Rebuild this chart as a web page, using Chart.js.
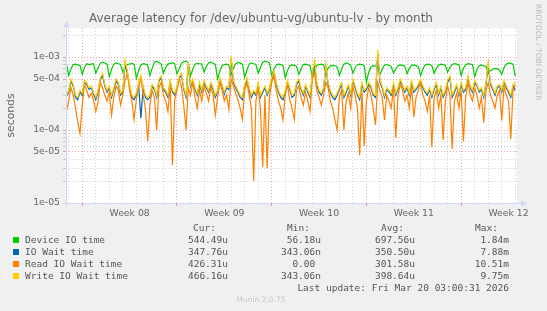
<!DOCTYPE html>
<html><head><meta charset="utf-8">
<script src="https://cdn.jsdelivr.net/npm/chart.js@4/dist/chart.umd.min.js"></script>
<style>
html,body{margin:0;padding:0;background:#f0f0f0;}
#wrap{position:relative;width:547px;height:311px;overflow:hidden;font-family:"DejaVu Sans",sans-serif;}
canvas{position:absolute;left:0;top:0;}
.t{position:absolute;white-space:pre;line-height:12px;}
.m{font-family:"DejaVu Sans Mono",monospace;font-size:9.5px;color:#555;}
.sq{position:absolute;width:6px;height:6px;}
</style></head>
<body><div id="wrap">
<canvas id="c" width="547" height="311"></canvas>
<div class="t" id="title" style="left:0;width:522px;top:11px;text-align:center;font-size:12px;color:#666;line-height:15px;">Average latency for /dev/ubuntu-vg/ubuntu-lv - by month</div>
<div class="t" style="left:534px;top:4px;writing-mode:vertical-rl;font-size:7.5px;color:#bbb;line-height:9px;">RRDTOOL / TOBI OETIKER</div>
<div id="legend"></div>
<div class="t" style="left:0;width:522px;top:295px;text-align:center;font-size:7.5px;color:#c8c8c8;line-height:10px;">Munin 2.0.75</div>
</div>
<script>
// ---- data (values in microseconds, one point every 4 hours) ----
const seriesNames = ['Device IO time','IO Wait time','Read IO Wait time','Write IO Wait time'];
const seriesColors = ['#00cc00','#0066b3','#ff8000','#ffcc00'];
const startDay = -7/6;      // days relative to Mon 16 Feb 2026 00:00
const stepDays = 1/6;
const deviceIO = [800,
560,690,790,800,780,770, 580,720,810,790,800,810, 600,700,820,850,830,800, 540,680,800,830,810,790,
620,740,790,800,820,800, 510,650,780,810,800,780, 560,700,850,870,840,800, 600,720,800,820,830,810,
590,690,820,860,880,840, 550,680,800,820,810,800, 620,740,830,850,820,790, 500,640,760,790,800,780,
570,700,810,840,830,800, 530,660,800,830,810,790, 600,720,850,880,860,830, 560,680,780,800,790,770,
520,650,760,780,770,750, 580,680,790,800,780,760, 540,660,770,790,800,780, 600,700,760,770,760,740,
560,680,800,830,810,770, 600,720,780,800,790,760, 450,620,730,760,750,730, 580,680,780,790,770,740,
600,690,760,780,770,750, 590,700,770,780,760,740, 560,680,780,800,790,760, 600,700,770,800,790,770,
620,720,790,810,800,780, 560,700,780,810,800,790, 540,680,760,780,760,740, 600,650,680,700,690,660,
580,720,800,830,820,800, 544];
const ioWait = [290,
330,470,400,280,260,330, 300,450,420,360,380,310, 260,330,490,560,400,330, 380,280,360,470,420,300,
330,800,600,400,280,260, 300,420,145,380,280,260, 280,400,360,280,470,520, 360,330,280,450,330,300,
380,520,560,360,280,780, 400,470,360,300,420,330, 450,380,330,420,360,280, 330,490,400,310,380,360,
950,450,380,330,280,260, 400,490,360,280,330,300, 420,280,330,380,300,360, 490,610,420,330,280,260,
330,450,360,280,300,420, 470,360,300,400,330,280, 560,820,420,330,300,360, 740,420,330,280,260,300,
360,420,280,330,400,300, 470,380,300,260,420,330, 360,420,380,300,280,1100, 450,380,280,360,330,300,
420,300,360,470,400,330, 380,300,450,330,360,400, 470,380,330,300,360,280, 360,420,300,380,280,330,
450,520,280,330,400,300, 420,330,360,520,380,330, 450,400,330,360,280,420, 780,420,360,300,380,400,
330,450,380,330,280,400, 348];
const readWait = [180,
250,380,300,200,130,90, 220,420,350,280,320,260, 180,240,450,380,300,250, 330,160,280,400,350,220,
300,480,600,350,250,140, 260,400,520,300,200,70, 220,350,280,100,380,450, 300,250,180,420,33,260,
350,500,400,220,100,380, 300,450,280,200,350,250, 400,320,250,380,300,160, 280,450,350,250,300,190,
500,400,320,260,200,140, 350,450,300,200,20,250, 380,200,31,300,30,280, 450,550,350,250,200,137,
300,420,260,200,140,350, 400,280,220,330,250,180, 500,600,350,280,220,300, 450,380,250,200,140,100,
280,350,100,250,320,200, 400,300,200,45,350,60, 250,380,300,200,117,450, 350,280,137,300,250,200,
380,78,300,420,350,250, 300,200,400,150,280,350, 450,300,250,180,300,58, 280,350,200,300,73,250,
400,300,55,250,320,200, 350,70,280,450,300,250, 380,300,200,280,125,350, 450,300,250,200,300,350,
135,400,300,250,75,350, 426];
const writeWait = [300,
350,500,420,300,280,350, 320,480,450,380,400,330, 280,350,520,600,420,350, 400,300,380,500,450,320,
350,900,650,420,300,280, 320,450,560,400,300,280, 300,420,380,300,500,550, 380,350,300,480,350,320,
400,550,600,380,300,850, 420,500,380,320,450,350, 480,400,350,450,380,300, 350,520,420,330,400,380,
1050,480,400,350,300,280, 420,520,380,300,350,320, 450,300,350,400,320,380, 520,650,450,350,300,280,
350,480,380,300,320,450, 500,380,320,420,350,300, 600,900,450,350,320,380, 800,450,350,300,280,320,
380,450,300,350,420,320, 500,400,320,280,450,350, 380,450,400,320,300,1250, 480,400,300,380,350,320,
450,320,380,500,420,350, 400,320,480,350,380,420, 500,400,350,320,380,300, 380,450,320,400,300,350,
480,550,300,350,420,320, 450,350,380,550,400,350, 480,420,350,380,300,450, 850,450,380,320,400,420,
350,480,400,350,300,420, 466];
// legend statistics
const statCur = ['544.49u','347.76u','426.31u','466.16u'];
const statMin = ['56.18u','343.06n','0.00 ','343.06n'];
const statAvg = ['697.56u','350.50u','301.58u','398.64u'];
const statMax = ['1.84m','7.88m','10.51m','9.75m'];
// axis ticks
const weekLabelDays = [3.5,10.5,17.5,24.5,31.5];
const weekLabels = ['Week 08','Week 09','Week 10','Week 11','Week 12'];
const weekStartDays = [0,7,14,21,28];
const yLabelValues = [1e-5,5e-5,1e-4,5e-4,1e-3];
const yLabels = ['1e-05','5e-05','1e-04','5e-04','1e-03'];
const yMin = 1e-5, yMax = 2.5e-3;

// ---- legend (HTML) ----
(function(){
  const L = document.getElementById('legend');
  const rowY = [240,252,264,276];
  let h = '';
  const hdr = [['Cur:',193],['Min:',287],['Avg:',381],['Max:',475]];
  hdr.forEach(([s,x])=>{ h += `<div class="t m" style="left:${x}px;top:222px">${s}</div>`; });
  const cols = [[statCur,228],[statMin,321],[statAvg,415],[statMax,509]];
  seriesNames.forEach((n,i)=>{
    const y = rowY[i];
    h += `<div class="sq" style="left:13px;top:${y-3}px;background:${seriesColors[i]}"></div>`;
    h += `<div class="t m" style="left:25px;top:${y-6}px">${n}</div>`;
    cols.forEach(([arr,r])=>{ h += `<div class="t m" style="right:${547-r}px;top:${y-6}px">${arr[i]}</div>`; });
  });
  h += `<div class="t m" style="right:${547-509}px;top:282px">Last update: Fri Mar 20 03:00:31 2026</div>`;
  L.innerHTML = h;
})();

// ---- chart ----
const toPts = arr => arr.map((v,i)=>({x:startDay+i*stepDays, y:v*1e-6}));
const seriesData = [deviceIO, ioWait, readWait, writeWait];
const datasets = seriesData.map((d,i)=>({
  label: seriesNames[i], data: toPts(d), borderColor: seriesColors[i],
  borderWidth: 1.2, pointRadius: 0, tension: 0, fill: false, order: 3-i
}));

const MAJ = 'rgba(230,110,110,0.6)', MIN = 'rgba(170,170,170,0.55)';
function mant(v){ const e=Math.floor(Math.log10(v)+1e-9); return Math.round(v/Math.pow(10,e)); }
const yGridVals = [];
for (let e=-5;e<=-3;e++) for (let m=1;m<=9;m++) { const v=m*Math.pow(10,e); if (v<=yMax*1.0001) yGridVals.push(v); }
const xTickVals = [];
for (let d=-1; d<=32; d++) xTickVals.push(d);
weekLabelDays.forEach(v=>xTickVals.push(v));
xTickVals.sort((a,b)=>a-b);

const axisPlugin = {
  id:'axes',
  beforeDraw(c){
    const {ctx, chartArea:a} = c; ctx.save(); ctx.fillStyle='#ffffff';
    ctx.fillRect(a.left,a.top,a.right-a.left,a.bottom-a.top); ctx.restore();
  },
  afterDraw(c){
    const {ctx, chartArea:a} = c; ctx.save();
    ctx.strokeStyle='#CFD6F8'; ctx.fillStyle='#CFD6F8'; ctx.lineWidth=1;
    const L = Math.round(a.left)+0.5, B = Math.round(a.bottom)+0.5;
    ctx.beginPath(); ctx.moveTo(L,B+3); ctx.lineTo(L,a.top-2); ctx.stroke();
    ctx.beginPath(); ctx.moveTo(L-3,a.top-1); ctx.lineTo(L+3,a.top-1); ctx.lineTo(L,a.top-7); ctx.closePath(); ctx.fill();
    ctx.beginPath(); ctx.moveTo(L-3,B); ctx.lineTo(a.right+4,B); ctx.stroke();
    ctx.beginPath(); ctx.moveTo(a.right+4,B-3); ctx.lineTo(a.right+4,B+3); ctx.lineTo(a.right+10,B); ctx.closePath(); ctx.fill();
    ctx.restore();
  }
};

new Chart(document.getElementById('c'), {
  type:'line',
  data:{datasets},
  plugins:[axisPlugin],
  options:{
    responsive:false, animation:false, devicePixelRatio:1,
    layout:{padding:{left:0,top:28,right:30,bottom:88}},
    plugins:{legend:{display:false}, tooltip:{enabled:false}, title:{display:false}},
    scales:{
      x:{
        type:'linear', min:-1.2, max:32.125,
        afterBuildTicks(s){ s.ticks = xTickVals.map(v=>({value:v})); },
        afterFit(s){ s.height = 20; },
        border:{display:false, dash:[1,2]},
        grid:{
          color(ctx){ const v=ctx.tick.value; if (!Number.isInteger(v)) return 'rgba(0,0,0,0)'; return weekStartDays.includes(v)?MAJ:MIN; },
          tickColor(ctx){ const v=ctx.tick && ctx.tick.value; return weekStartDays.includes(v)?'rgba(230,110,110,0.8)':'rgba(0,0,0,0)'; },
          tickLength:3, drawTicks:true, lineWidth:1
        },
        ticks:{
          autoSkip:false, maxRotation:0, padding:2, color:'#666',
          font:{family:'DejaVu Sans', size:9.3},
          callback(v){ const k=weekLabelDays.indexOf(v); return k>=0?weekLabels[k]:''; }
        }
      },
      y:{
        type:'logarithmic', min:yMin, max:yMax,
        afterBuildTicks(s){ s.ticks = yGridVals.map(v=>({value:v})); },
        afterFit(s){ s.width = 66; },
        border:{display:false, dash:[1,2]},
        grid:{
          color(ctx){ const m=mant(ctx.tick.value); return (m===1||m===5)?MAJ:MIN; },
          tickColor(ctx){ const m=mant(ctx.tick.value); return (m===1||m===5)?MAJ:MIN; },
          tickLength:3, drawTicks:true, lineWidth:1
        },
        title:{display:true, text:'seconds', color:'#666', font:{family:'DejaVu Sans', size:10.8}, padding:{top:5,bottom:0}},
        ticks:{
          autoSkip:false, padding:3, color:'#666',
          font:{family:'DejaVu Sans', size:9.3},
          callback(v){ const k=yLabelValues.findIndex(t=>Math.abs(t-v)/t<1e-6); return k>=0?yLabels[k]:''; }
        }
      }
    }
  }
});
</script>
</body></html>
